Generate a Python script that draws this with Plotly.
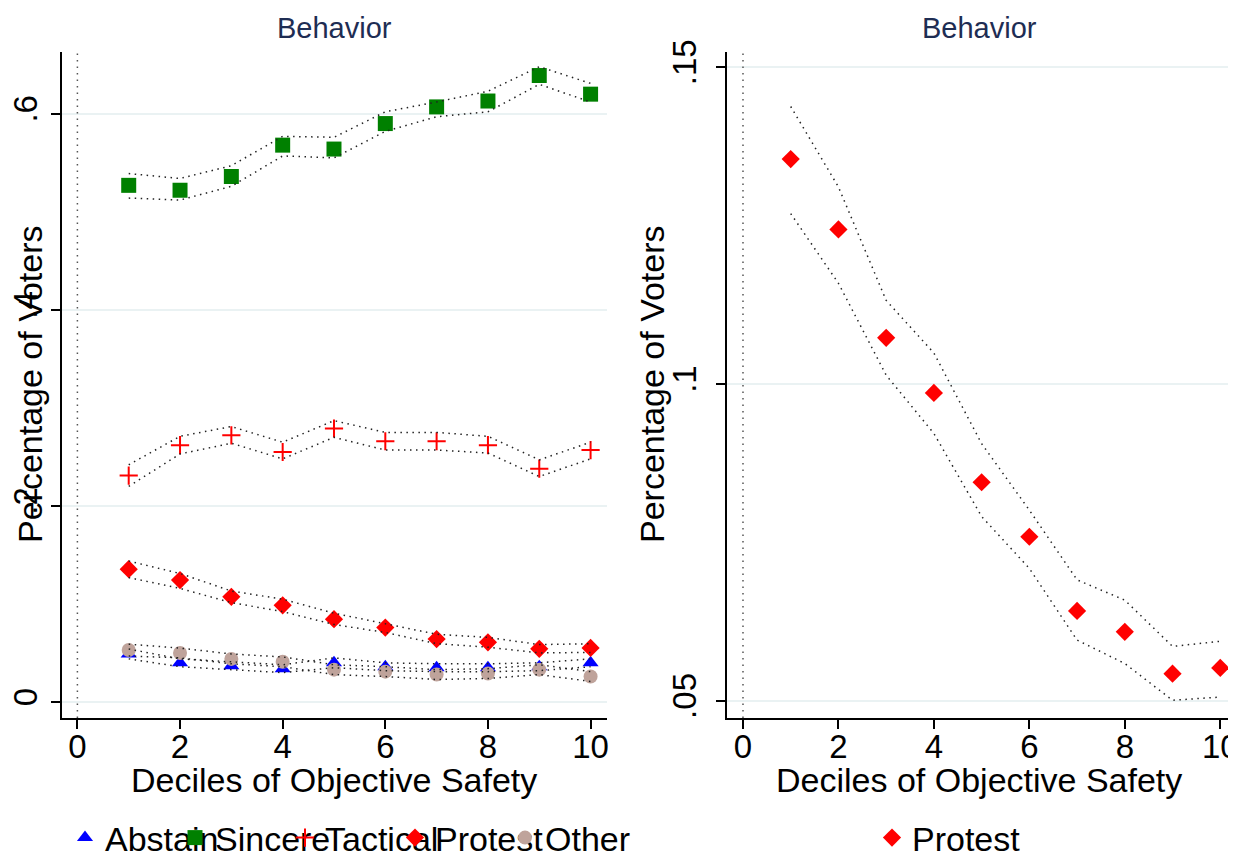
import plotly.graph_objects as go

deciles = [1, 2, 3, 4, 5, 6, 7, 8, 9, 10]

abstain = [0.049, 0.040, 0.037, 0.034, 0.040, 0.036, 0.035, 0.035, 0.036, 0.040]
abstain_lo = [0.044, 0.036, 0.033, 0.030, 0.035, 0.032, 0.031, 0.031, 0.032, 0.036]
abstain_hi = [0.054, 0.044, 0.041, 0.038, 0.045, 0.040, 0.039, 0.039, 0.040, 0.044]

sincere = [0.527, 0.522, 0.536, 0.568, 0.564, 0.590, 0.607, 0.613, 0.639, 0.620]
sincere_lo = [0.514, 0.512, 0.526, 0.557, 0.555, 0.582, 0.597, 0.602, 0.630, 0.612]
sincere_hi = [0.539, 0.534, 0.547, 0.577, 0.576, 0.602, 0.612, 0.623, 0.648, 0.631]

tactical = [0.231, 0.262, 0.272, 0.255, 0.279, 0.266, 0.266, 0.262, 0.238, 0.257]
tactical_lo = [0.220, 0.253, 0.264, 0.248, 0.270, 0.257, 0.257, 0.254, 0.230, 0.248]
tactical_hi = [0.242, 0.271, 0.281, 0.265, 0.287, 0.275, 0.275, 0.271, 0.247, 0.265]

protest = [0.1355, 0.1244, 0.1073, 0.0986, 0.0845, 0.0759, 0.0642, 0.0609, 0.0543, 0.0552]
protest_lo = [0.1269, 0.1159, 0.1014, 0.0922, 0.0791, 0.0709, 0.0596, 0.0559, 0.0501, 0.0506]
protest_hi = [0.1438, 0.1311, 0.1132, 0.1049, 0.0906, 0.0801, 0.0691, 0.0659, 0.0586, 0.0594]

other = [0.053, 0.050, 0.044, 0.041, 0.033, 0.031, 0.028, 0.029, 0.033, 0.026]
other_lo = [0.047, 0.045, 0.039, 0.036, 0.028, 0.026, 0.023, 0.024, 0.028, 0.021]
other_hi = [0.059, 0.055, 0.049, 0.046, 0.038, 0.036, 0.033, 0.034, 0.038, 0.031]

x_ticks = [0, 2, 4, 6, 8, 10]
left_yticks = [0, 0.2, 0.4, 0.6]
left_ylabels = ["0", ".2", ".4", ".6"]
right_yticks = [0.05, 0.1, 0.15]
right_ylabels = [".05", ".1", ".15"]

FONT = "Liberation Sans, Arial, sans-serif"
# the page body keeps an 8px margin, so the figure is drawn 8px in from the window edge
OFF = 8
W, H = 1236 - OFF, 859 - OFF

series = [
    ("Abstain", abstain, abstain_lo, abstain_hi, dict(symbol="triangle-up", size=14, color="#0000FF")),
    ("Sincere", sincere, sincere_lo, sincere_hi, dict(symbol="square", size=15, color="#008000")),
    ("Tactical", tactical, tactical_lo, tactical_hi,
     dict(symbol="cross-thin", size=13, color="#FF0000", line=dict(color="#FF0000", width=2))),
    ("Protest", protest, protest_lo, protest_hi, dict(symbol="diamond", size=14, color="#FF0000")),
    ("Other", other, other_lo, other_hi, dict(symbol="circle", size=14, color="#BFA39B")),
]

ci_line = dict(color="#222222", width=1.5, dash="1.5px,4.5px")

fig = go.Figure()

for name, vals, lo, hi, mk in series:
    fig.add_trace(go.Scatter(x=deciles, y=vals, mode="markers", name=name, marker=mk,
                             xaxis="x", yaxis="y", legend="legend"))
# empty, invisible legend entry so the last label is not clipped by the legend box
fig.add_trace(go.Scatter(x=[None], y=[None], mode="markers", name=" ",
                         marker=dict(color="rgba(0,0,0,0)", size=1),
                         xaxis="x", yaxis="y", legend="legend", hoverinfo="skip"))
for name, vals, lo, hi, mk in series:
    for b in (lo, hi):
        fig.add_trace(go.Scatter(x=deciles, y=b, mode="lines", line=ci_line, showlegend=False,
                                 hoverinfo="skip", xaxis="x", yaxis="y"))

fig.add_trace(go.Scatter(x=deciles, y=protest, mode="markers", name="Protest",
                         marker=dict(symbol="diamond", size=14, color="#FF0000"),
                         xaxis="x2", yaxis="y2", legend="legend2"))
for b in (protest_lo, protest_hi):
    fig.add_trace(go.Scatter(x=deciles, y=b, mode="lines", line=ci_line, showlegend=False,
                             hoverinfo="skip", xaxis="x2", yaxis="y2"))


def px_x(p):
    return (p - OFF) / W


def px_y(p):
    return 1 - (p - OFF) / H


ydom = [px_y(718), px_y(52)]
axis_common = dict(showline=True, linecolor="#000000", linewidth=1.5, ticks="outside",
                   ticklen=9, tickwidth=1.5, tickcolor="#000000", zeroline=False,
                   automargin=False, ticklabeloverflow="allow",
                   tickfont=dict(family=FONT, size=33, color="#000000"))


def ann(text, x, y, size, angle=0, color="#000000"):
    return dict(text=text, x=px_x(x), y=px_y(y), xref="paper", yref="paper",
                xanchor="center", yanchor="middle", showarrow=False, textangle=angle,
                font=dict(family=FONT, size=size, color=color))


fig.update_layout(
    width=W, height=H,
    margin=dict(l=0, r=0, t=0, b=0, autoexpand=False),
    paper_bgcolor="#FFFFFF", plot_bgcolor="#FFFFFF",
    font=dict(family=FONT, color="#000000"),
    xaxis=dict(domain=[px_x(62), px_x(607)], range=[-0.3, 10.32], tickvals=x_ticks,
               showgrid=False, anchor="y", ticklabelstandoff=-10, **axis_common),
    yaxis=dict(domain=ydom, range=[-0.0163, 0.663], tickvals=left_yticks, ticktext=left_ylabels,
               tickangle=-90, showgrid=True, gridcolor="#EAF2F3", gridwidth=1.5, anchor="x",
               ticklabelstandoff=1, **axis_common),
    xaxis2=dict(domain=[px_x(727), 1.0], range=[-0.335, 10.33], tickvals=x_ticks,
                showgrid=False, anchor="y2", ticklabelstandoff=-10, **axis_common),
    yaxis2=dict(domain=ydom, range=[0.0473, 0.1524], tickvals=right_yticks, ticktext=right_ylabels,
                tickangle=-90, showgrid=True, gridcolor="#EAF2F3", gridwidth=1.5, anchor="x2",
                ticklabelstandoff=7, **axis_common),
    legend=dict(orientation="h", x=px_x(65), xanchor="left", y=px_y(838), yanchor="middle",
                entrywidth=65, entrywidthmode="pixels", font=dict(family=FONT, size=34),
                bgcolor="rgba(0,0,0,0)", itemclick=False, itemdoubleclick=False),
    legend2=dict(orientation="h", x=px_x(872), xanchor="left", y=px_y(838), yanchor="middle",
                 font=dict(family=FONT, size=34), bgcolor="rgba(0,0,0,0)"),
    shapes=[
        dict(type="line", xref="x", yref="y domain", x0=0, x1=0, y0=0, y1=1,
             line=dict(color="#555555", width=1.5, dash="1.5px,5px")),
        dict(type="line", xref="x2", yref="y2 domain", x0=0, x1=0, y0=0, y1=1,
             line=dict(color="#555555", width=1.5, dash="1.5px,5px")),
    ],
    annotations=[
        ann("Behavior", 334, 28, 29, color="#1E2D53"),
        ann("Behavior", 979, 28, 29, color="#1E2D53"),
        ann("Percentage of Voters", 30, 384, 34, angle=-90),
        ann("Percentage of Voters", 652, 384, 34, angle=-90),
        ann("Deciles of Objective Safety", 334, 780, 34),
        ann("Deciles of Objective Safety", 979, 780, 34),
    ],
)

fig.write_html("out.html")
